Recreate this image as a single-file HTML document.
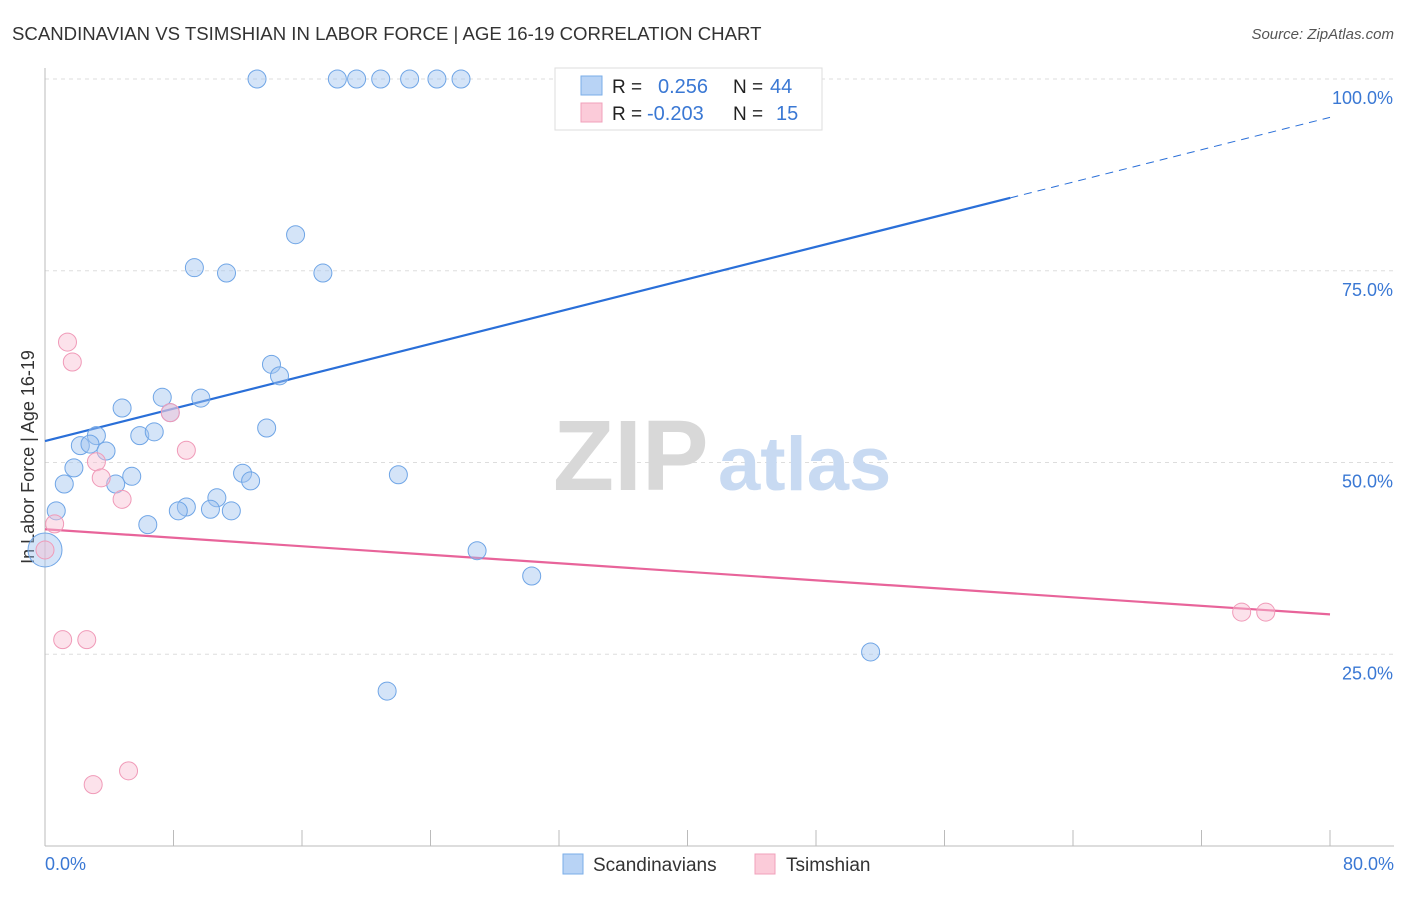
<!DOCTYPE html>
<html><head><meta charset="utf-8"><style>
body{margin:0;background:#fff;font-family:"Liberation Sans",sans-serif}
svg text{font-family:"Liberation Sans",sans-serif}
</style></head><body>
<svg id="chart" width="1406" height="892" xmlns="http://www.w3.org/2000/svg">
<text x="12" y="40" font-size="18.6" fill="#333">SCANDINAVIAN VS TSIMSHIAN IN LABOR FORCE | AGE 16-19 CORRELATION CHART</text>
<text x="1394" y="39" font-size="15" fill="#555" text-anchor="end" font-style="italic">Source: ZipAtlas.com</text>
<g id="grid"></g>
<g>
<text x="553" y="490" font-size="100" font-family="Liberation Serif,serif" fill="#d8d8d8" font-weight="bold">ZIP</text>
<text x="718" y="490" font-size="76" fill="#c8daf2" font-weight="bold">atlas</text>
</g>
<line x1="45" y1="68" x2="45" y2="846" stroke="#bbb"/>
<line x1="45" y1="846" x2="1394" y2="846" stroke="#bbb"/>
<text transform="translate(34,457) rotate(-90)" font-size="18" fill="#333" text-anchor="middle">In Labor Force | Age 16-19</text>
<text x="45" y="870" font-size="18" fill="#3a78d4">0.0%</text>
<text x="1394" y="870" font-size="18" fill="#3a78d4" text-anchor="end">80.0%</text>
<g id="trends"></g>
<g id="points"></g>
<g>
<rect x="555" y="68" width="267" height="62" fill="#fff" stroke="#ddd"/>
<rect x="581" y="76" width="21" height="19" fill="#b8d3f5" stroke="#7aaee8"/>
<rect x="581" y="103" width="21" height="19" fill="#fbcbd9" stroke="#f0a0bb"/>
<text x="612" y="93" font-size="19" fill="#222">R = </text><text x="658" y="93" font-size="20" fill="#3a78d4">0.256</text>
<text x="733" y="93" font-size="19" fill="#222">N = </text><text x="770" y="93" font-size="20" fill="#3a78d4">44</text>
<text x="612" y="120" font-size="19" fill="#222">R = </text><text x="647" y="120" font-size="20" fill="#3a78d4">-0.203</text>
<text x="733" y="120" font-size="19" fill="#222">N = </text><text x="776" y="120" font-size="20" fill="#3a78d4">15</text>
</g>
<g>
<rect x="563" y="854" width="20" height="20" fill="#b8d3f5" stroke="#7aaee8"/>
<text x="593" y="871" font-size="19" fill="#333">Scandinavians</text>
<rect x="755" y="854" width="20" height="20" fill="#fbcbd9" stroke="#f0a0bb"/>
<text x="786" y="871" font-size="19" fill="#333">Tsimshian</text>
</g>
</svg>
<script>
const yTicks=[25,50,75,100];
const yTickLabels=["25.0%","50.0%","75.0%","100.0%"];
const xTicks=[0,8,16,24,32,40,48,56,64,72,80];
const blueX=[13.2,18.2,19.4,20.9,22.7,24.4,25.9,43.3,15.6,9.3,11.3,17.3,14.1,14.6,4.8,7.3,9.7,7.8,13.8,3.2,5.9,6.8,2.2,2.8,3.8,1.8,5.4,12.3,12.8,22.0,1.2,4.4,10.7,8.8,8.3,10.3,11.6,0.7,6.4,26.9,30.3,51.4,21.3,0];
const blueY=[100,100,100,100,100,100,100,100,79.7,75.4,74.7,74.7,62.8,61.3,57.1,58.5,58.4,56.5,54.5,53.5,53.5,54.0,52.2,52.4,51.5,49.3,48.2,48.6,47.6,48.4,47.2,47.2,45.4,44.2,43.7,43.9,43.7,43.7,41.9,38.5,35.2,25.3,20.2,38.6];
const pinkX=[1.4,1.7,7.8,8.8,3.2,3.5,4.8,0.6,0,1.1,2.6,74.5,76.0,5.2,3.0];
const pinkY=[65.7,63.1,56.5,51.6,50.1,48.0,45.2,42.0,38.6,26.9,26.9,30.5,30.5,9.8,8.0];
const blueTrend=[52.8,95.0];
const blueSolidEnd=60.1;
const pinkTrend=[41.3,30.2];
const NS="http://www.w3.org/2000/svg";
const sx=v=>45+v*(1285/80);
const sy=v=>846-v*7.67;
function mk(tag,attrs,parent){const e=document.createElementNS(NS,tag);for(const k in attrs)e.setAttribute(k,attrs[k]);parent.appendChild(e);return e;}
const grid=document.getElementById('grid');
yTicks.forEach((t,i)=>{
 const l=mk('line',{x1:45,x2:1394,y1:sy(t),y2:sy(t),stroke:'#ddd','stroke-dasharray':'4,4'},grid);
 
 
 const tx=mk('text',{x:1393,y:sy(t)+25,'font-size':18,fill:'#3a78d4','text-anchor':'end'},grid);
 tx.textContent=yTickLabels[i];
 
 
});
xTicks.forEach(t=>{
 const l=mk('line',{x1:sx(t),x2:sx(t),y1:830,y2:846,stroke:'#bbb'},grid);
 
 
});
const tr=document.getElementById('trends');
const lineAt=(tt,x)=>tt[0]+(tt[1]-tt[0])*x/80;
let b1=mk('line',{x1:sx(0),y1:sy(blueTrend[0]),x2:sx(blueSolidEnd),y2:sy(lineAt(blueTrend,blueSolidEnd)),stroke:'#2a6fd8','stroke-width':2.2},tr);


let b2=mk('line',{x1:sx(blueSolidEnd),y1:sy(lineAt(blueTrend,blueSolidEnd)),x2:sx(80),y2:sy(blueTrend[1]),stroke:'#2a6fd8','stroke-width':1,'stroke-dasharray':'8,6'},tr);


let p1=mk('line',{x1:sx(0),y1:sy(pinkTrend[0]),x2:sx(80),y2:sy(pinkTrend[1]),stroke:'#e8649a','stroke-width':2.2},tr);


const pts=document.getElementById('points');
blueX.forEach((x,i)=>{
 const c=mk('circle',{cx:sx(x),cy:sy(blueY[i]),r:(x===0?17:9),fill:'rgba(160,196,240,0.45)',stroke:'#6fa5e6','stroke-width':1},pts);
 
 
});
pinkX.forEach((x,i)=>{
 const c=mk('circle',{cx:sx(x),cy:sy(pinkY[i]),r:9,fill:'rgba(248,190,210,0.45)',stroke:'#f09ab8','stroke-width':1},pts);
 
 
});
</script>
</body></html>
